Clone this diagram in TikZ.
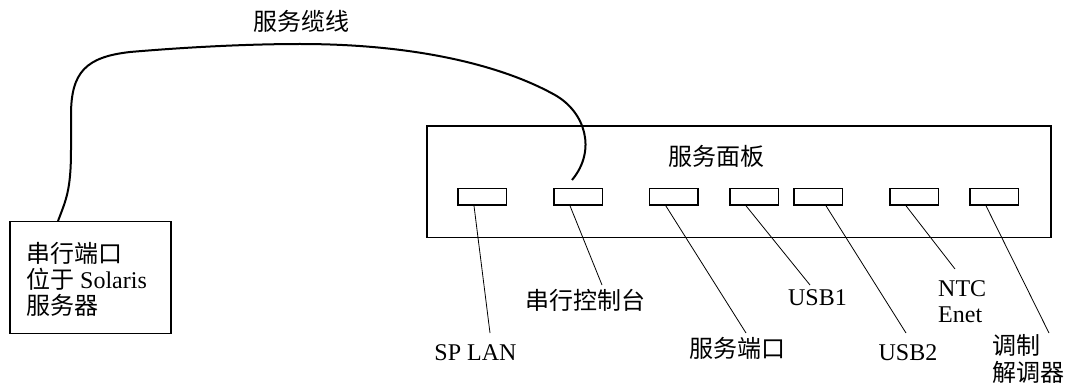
\documentclass[tikz,border=0pt]{standalone}
\usepackage{fontspec}
\setmainfont{Liberation Serif}
\newfontfamily\cjk{Noto Sans CJK SC}
\begin{document}
\begin{tikzpicture}[x=1pt,y=-1pt,
  box/.style={draw,line width=1.7pt},
  portbox/.style={draw,line width=1.6pt,minimum width=48.6pt,minimum height=16.3pt,inner sep=0pt},
  cable/.style={line width=2pt},
  leader/.style={line width=0.8pt},
  lbl/.style={inner sep=0pt,font=\fontsize{24}{26}\selectfont},
]
\useasboundingbox (0,0) rectangle (1069,385);
% left server box
\node[box,minimum width=160.7pt,minimum height=112pt,inner sep=0pt,anchor=north west] (srv) at (9.3,220.7) {};
\node[lbl,anchor=base west] (s1) at (26,262) {\cjk 串行端口};
\node[lbl,anchor=base west] (s2) at (26,288) {{\cjk 位于} Solaris};
\node[lbl,anchor=base west] (s3) at (26,314) {\cjk 服务器};
% panel
\node[box,minimum width=624pt,minimum height=111.7pt,inner sep=0pt,anchor=north west] (panel) at (426,125) {};
\node[lbl,anchor=base] (ptitle) at (716,166) {\cjk 服务面板};
% ports
\node[portbox] (p1) at (482,196.85) {};
\node[portbox] (p2) at (578,196.85) {};
\node[portbox] (p3) at (673.8,196.85) {};
\node[portbox] (p4) at (754,196.85) {};
\node[portbox] (p5) at (818,196.85) {};
\node[portbox] (p6) at (914,196.85) {};
\node[portbox] (p7) at (994,196.85) {};
% cable
\node[lbl,anchor=base] (ctitle) at (301,31) {\cjk 服务缆线};
\coordinate (cs) at (58,221);
\coordinate (ce) at (572,180);
\draw[cable] (cs) .. controls (66,200) and (71,190) .. (71,150)
  -- (71,115) .. controls (71,72) and (86,57) .. (130,52)
  .. controls (200,46) and (260,44) .. (300,44)
  .. controls (420,44) and (505,67) .. (555,95)
  .. controls (585,112) and (597,150) .. (ce);
% leader ends
\coordinate (e1) at (490,333);
\coordinate (e2) at (602,285);
\coordinate (e3) at (746,333);
\coordinate (e4) at (810,285);
\coordinate (e5) at (906,333);
\coordinate (e6) at (955,269);
\coordinate (e7) at (1049,333);
\draw[leader] ([xshift=-8pt]p1.south) -- (e1);
\draw[leader] ([xshift=-8pt]p2.south) -- (e2);
\draw[leader] ([xshift=-8pt]p3.south) -- (e3);
\draw[leader] ([xshift=-8pt]p4.south) -- (e4);
\draw[leader] ([xshift=8pt]p5.south) -- (e5);
\draw[leader] ([xshift=-8pt]p6.south) -- (e6);
\draw[leader] ([xshift=-8pt]p7.south) -- (e7);
% labels
\node[lbl,anchor=base] (l1) at (475.5,360) {SP LAN};
\node[lbl,anchor=base] (l2) at (585,309) {\cjk 串行控制台};
\node[lbl,anchor=base] (l3) at (737,357) {\cjk 服务端口};
\node[lbl,anchor=base] (l4) at (817.5,305) {USB1};
\node[lbl,anchor=base] (l5) at (908,360) {USB2};
\node[lbl,anchor=base west] (l6a) at (938,296) {NTC};
\node[lbl,anchor=base west] (l6b) at (938,322) {Enet};
\node[lbl,anchor=base west] (l7a) at (992,354) {\cjk 调制};
\node[lbl,anchor=base west] (l7b) at (992,381) {\cjk 解调器};
\end{tikzpicture}
\end{document}
